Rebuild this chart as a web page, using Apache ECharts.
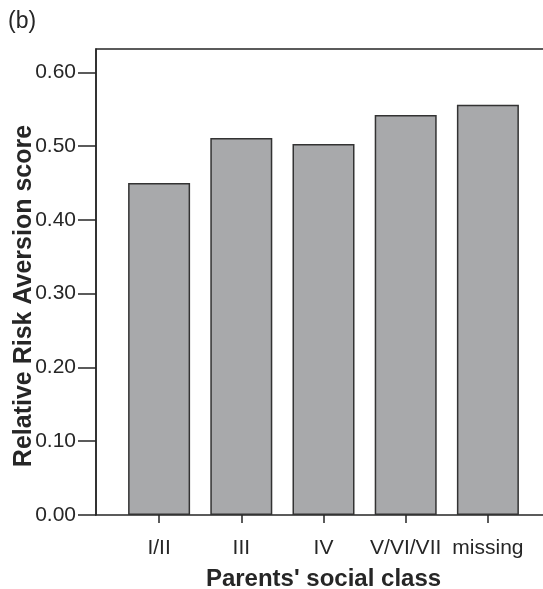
<!DOCTYPE html>
<html>
<head>
<meta charset="utf-8">
<script src="https://cdn.jsdelivr.net/npm/echarts@6/dist/echarts.min.js"></script>
<style>
  html, body { margin: 0; padding: 0; background: #fff; }
  #chart { width: 543px; height: 589px; }
</style>
</head>
<body>
<div id="chart"></div>
<script>
  // 数据
  const categories = ['I/II', 'III', 'IV', 'V/VI/VII', 'missing']
  const scores = [0.450, 0.511, 0.503, 0.542, 0.556]
  const yTicks = [0, 0.1, 0.2, 0.3, 0.4, 0.5, 0.6]

  const font = 'Liberation Sans, Arial, sans-serif'
  const ink = '#262626'
  const yMax = 0.6316

  const chart = echarts.init(document.getElementById('chart'))

  const options = {
    animation: false,
    textStyle: { fontFamily: font },
    title: {
      text: '(b)',
      left: 3,
      top: 5,
      textStyle: { fontFamily: font, fontSize: 23, fontWeight: 'normal', color: ink }
    },
    // grid 0: 柱子, grid 1: 外框 + y 轴
    grid: [
      { left: 118, right: 14, top: 49, bottom: 74, outerBoundsMode: 'none' },
      {
        left: 96, right: -20, top: 49, bottom: 74, outerBoundsMode: 'none',
        show: true, borderColor: ink, borderWidth: 1.5, backgroundColor: 'transparent'
      }
    ],
    xAxis: [
      {
        type: 'category',
        gridIndex: 0,
        data: categories,
        axisLine: { show: false },
        axisTick: { show: true, alignWithLabel: true, length: 8, lineStyle: { color: ink, width: 1.5 } },
        axisLabel: { interval: 0, hideOverlap: false, fontSize: 21, color: ink, margin: 23, fontFamily: font },
        name: "Parents' social class",
        nameLocation: 'middle',
        nameGap: 52,
        nameMoveOverlap: false,
        nameTextStyle: { fontSize: 24, fontWeight: 'bold', color: ink, fontFamily: font }
      },
      { type: 'value', gridIndex: 1, show: false, min: 0, max: 1 }
    ],
    yAxis: [
      { type: 'value', gridIndex: 0, show: false, min: 0, max: yMax },
      {
        type: 'value',
        gridIndex: 1,
        min: 0,
        max: yMax,
        splitLine: { show: false },
        axisLine: { show: true, lineStyle: { color: ink, width: 1.5 } },
        axisTick: { show: true, length: 18, customValues: yTicks, lineStyle: { color: ink, width: 1.5 } },
        axisLabel: {
          customValues: yTicks,
          fontSize: 21,
          color: ink,
          margin: 20,
          fontFamily: font,
          formatter: (v) => v.toFixed(2)
        },
        name: 'Relative Risk Aversion score',
        nameLocation: 'middle',
        nameGap: 59,
        nameMoveOverlap: false,
        nameTextStyle: {
          fontSize: 25, fontWeight: 'bold', color: ink, fontFamily: font,
          padding: [0, 28, 0, 0]
        }
      }
    ],
    series: [
      {
        type: 'bar',
        xAxisIndex: 0,
        yAxisIndex: 0,
        data: scores,
        barWidth: 62,
        itemStyle: { color: '#a8a9ab', borderColor: '#333', borderWidth: 1.5 }
      }
    ]
  }
  chart.setOption(options)
</script>
</body>
</html>
